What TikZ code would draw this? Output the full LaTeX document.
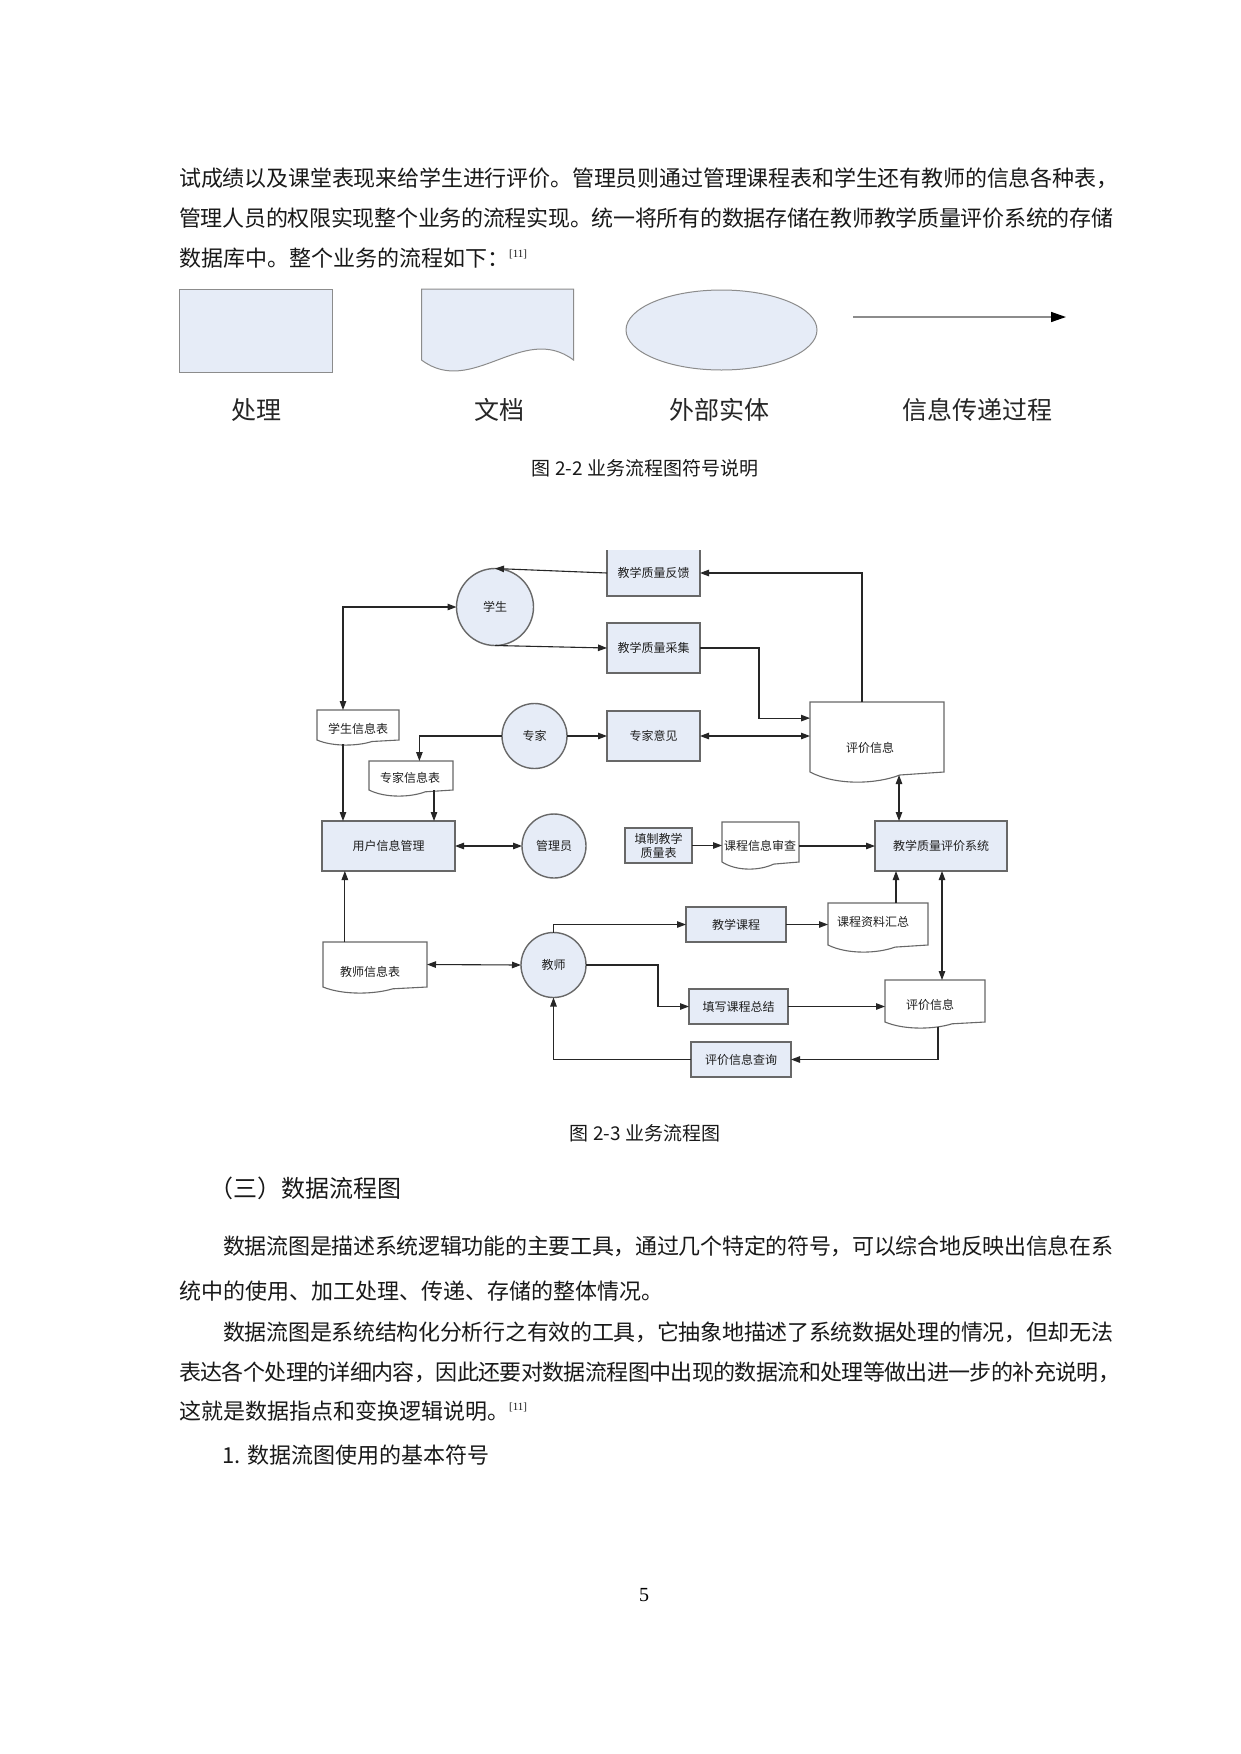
\documentclass[tikz,border=0pt]{standalone}
\usepackage{fontspec}
\setmainfont{Liberation Serif}
\newfontfamily\cjk{Noto Sans CJK SC}
\usetikzlibrary{arrows.meta,calc,shapes.geometric}
\ExplSyntaxOn
\cs_new_protected:Npn \my_spread:n #1 { \tl_map_inline:nn {#1} { ##1 \hskip 0pt plus 1fil minus 1fil \relax } \unskip }
\NewDocumentCommand\jline{mm}{\hbox to #1 {\my_spread:n {#2}}}
\ExplSyntaxOff
\definecolor{lblue}{HTML}{E6ECF7}
\definecolor{bgrey}{HTML}{686868}
\definecolor{lgrey}{HTML}{8C8C8C}
\newcommand\mydoc[2]{%
\path[docline] (#1.south west) -- (#1.north west) -- (#1.north east) -- (#1.south east)
 -- ($(#1.south west)!0.67!(#1.south east)+(0,0.3*#2)$)
 .. controls ($(#1.south west)!0.5!(#1.south east)+(0,1.2*#2)$) and ($(#1.south west)!0.2!(#1.south east)+(0,1.4*#2)$) .. (#1.south west) -- cycle;}
\begin{document}
\begin{tikzpicture}[x=1pt,y=-1pt,
  body/.style={font={\cjk\fontsize{22}{26}\selectfont}, text=black!90, inner sep=0pt, anchor=west},
  proc/.style={rectangle, fill=lblue, draw=bgrey, line width=1.6pt, inner sep=0pt, outer sep=0pt, font={\cjk\fontsize{12}{14}\selectfont}, text=black!88},
  ent/.style={circle, fill=lblue, draw=bgrey, line width=1.4pt, inner sep=0pt, outer sep=0pt, font={\cjk\fontsize{12}{14}\selectfont}, text=black!88},
  docbox/.style={rectangle, inner sep=0pt, outer sep=0pt, draw=none},
  docline/.style={draw=bgrey, line width=1.1pt, fill=white},
  lab/.style={font={\cjk\fontsize{12}{14}\selectfont}, text=black!88, inner sep=0pt},
  arr/.style={draw=black!85, line width=1.1pt, -{Triangle[length=9pt,width=6.5pt]}},
  darr/.style={draw=black!85, line width=1.1pt, {Triangle[length=9pt,width=6.5pt]}-{Triangle[length=9pt,width=6.5pt]}},
  leglab/.style={font={\cjk\fontsize{25}{30}\selectfont}, text=black!85},
  captxt/.style={font={\cjk\fontsize{19}{22}\selectfont}, text=black!90}
]
\fill[white] (0,0) rectangle (1241,1754);
\useasboundingbox (0,0) rectangle (1241,1754);

% ---- top paragraph
\node[body] (p1) at (179,178) {\jline{939pt}{试成绩以及课堂表现来给学生进行评价。管理员则通过管理课程表和学生还有教师的信息各种表，}};
\node[body] (p2) at (179,218) {\jline{934pt}{管理人员的权限实现整个业务的流程实现。统一将所有的数据存储在教师教学质量评价系统的存储}};
\node[body] (p3) at (179,258) {数据库中。整个业务的流程如下：{\rmfamily\fontsize{11}{11}\selectfont\raisebox{9pt}{[11]}}};

% ---- legend
\node[rectangle, fill=lblue, draw=lgrey, line width=1pt, minimum width=153pt, minimum height=83pt, inner sep=0pt] (lr) at (255.5,330.5) {};
\node[docbox, minimum width=152pt, minimum height=71pt] (ld) at (497.5,324.5) {};
\path[fill=lblue, draw=lgrey, line width=1pt] (ld.south west) -- (ld.north west) -- (ld.north east) -- (ld.south east)
  .. controls ($(ld.south west)!0.667!(ld.south east)+(0,-38)$) and ($(ld.south west)!0.333!(ld.south east)+(0,38)$) .. (ld.south west) -- cycle;
\node[ellipse, fill=lblue, draw=lgrey, line width=1pt, minimum width=191pt, minimum height=80pt, inner sep=0pt] (le) at (721.5,330) {};
\coordinate (la1) at (853,317);
\coordinate (la2) at (1066,317);
\draw[draw=lgrey, line width=1.5pt, -{Triangle[length=15pt,width=10pt,color=black]}] (la1) -- (la2);
\node[leglab] (l1) at (256,410) {处理};
\node[leglab] (l2) at (499,410) {文档};
\node[leglab] (l3) at (719,410) {外部实体};
\node[leglab] (l4) at (977,410) {信息传递过程};
\node[captxt] (c1) at (645,468) {图 2-2 业务流程图符号说明};

% ---- main diagram: processes
\node[proc, draw=none, minimum width=93pt, minimum height=46pt] (fk) at (653.5,573) {教学质量反馈};
\draw[draw=bgrey, line width=1.6pt] (fk.north west) -- (fk.south west) -- (fk.south east) -- (fk.north east);
\node[proc, minimum width=93pt, minimum height=50pt] (cj) at (653.5,648) {教学质量采集};
\node[proc, minimum width=93pt, minimum height=50pt] (zjyj) at (653.5,736) {专家意见};
\node[proc, minimum width=133pt, minimum height=50pt] (yhgl) at (388.5,846) {用户信息管理};
\node[proc, minimum width=67pt, minimum height=35pt, align=center] (tz) at (658.5,845.5) {填制教学\\质量表};
\node[proc, minimum width=132pt, minimum height=50pt] (xt) at (941,846) {教学质量评价系统};
\node[proc, minimum width=100pt, minimum height=35pt] (kc) at (736,924.5) {教学课程};
\node[proc, minimum width=99pt, minimum height=35pt] (zj) at (738.5,1006.5) {填写课程总结};
\node[proc, minimum width=100pt, minimum height=35pt] (cx) at (741,1059.5) {评价信息查询};

% entities
\node[ent, minimum size=77pt] (xs) at (495,607) {学生};
\node[ent, minimum size=65pt] (zjc) at (534.5,736) {专家};
\node[ent, minimum size=64pt] (gly) at (554,846) {管理员};
\node[ent, minimum size=65pt] (js) at (553.5,965) {教师};

% documents
\node[docbox, minimum width=82pt, minimum height=30pt] (xsb) at (358,725) {};
\node[docbox, minimum width=84pt, minimum height=29pt] (zjb) at (411,775.5) {};
\node[docbox, minimum width=104pt, minimum height=45pt] (jsb) at (375,964.5) {};
\node[docbox, minimum width=134pt, minimum height=70pt] (pj1) at (877,737) {};
\node[docbox, minimum width=77pt, minimum height=40pt] (shb) at (760.5,842) {};
\node[docbox, minimum width=100pt, minimum height=42pt] (hz) at (878,924) {};
\node[docbox, minimum width=100pt, minimum height=42pt] (pj2) at (935,1001) {};
\mydoc{xsb}{5}
\mydoc{zjb}{6}
\mydoc{jsb}{6}
\mydoc{pj1}{10}
\mydoc{shb}{7}
\mydoc{hz}{7}
\mydoc{pj2}{6}
\node[lab] (xsbt) at (358,729) {学生信息表};
\node[lab] (zjbt) at (410,778) {专家信息表};
\node[lab] (jsbt) at (370,972) {教师信息表};
\node[lab] (pj1t) at (870,748) {评价信息};
\node[lab] (shbt) at (760,846) {课程信息审查};
\node[lab] (hzt) at (873,922) {课程资料汇总};
\node[lab] (pj2t) at (930,1005) {评价信息};

% helper coordinates on shapes
\coordinate (cxs) at ($(xsb.north west)!0.317!(xsb.north east)$);
\coordinate (czj) at ($(zjb.north west)!0.6!(zjb.north east)$);
\coordinate (czb) at ($(zjb.south west)!0.774!(zjb.south east)$);
\coordinate (cjs) at ($(jsb.north west)!0.21!(jsb.north east)$);
\coordinate (cp1) at ($(xt.north west)!0.182!(xt.north east)$);
\coordinate (chz) at ($(hz.north west)!0.68!(hz.north east)$);
\coordinate (cp2) at ($(pj2.north west)!0.57!(pj2.north east)$);
\coordinate (cp3) at ($(pj2.south west)!0.53!(pj2.south east)$);

% connectors
\draw[arr] ($(pj1.north west)+(52,0)$) |- (fk.east);
\draw[arr] (fk.west) -- (xs.north);
\draw[arr] (xs.south) -- (cj.west);
\draw[arr] (cj.east) -- ++(59,0) |- ($(pj1.north west)!0.23!(pj1.south west)$);
\draw[darr] (zjyj.east) -- (zjyj.east -| pj1.west);
\draw[arr] (zjc) -- (zjyj);
\draw[arr] (zjc.west) -| (czj);
\draw[darr] (xs.west) -| (cxs);
\draw[arr] ($(cxs |- xsb.south)+(0,4)$) -- (cxs |- yhgl.north);
\draw[arr] (czb) -- (czb |- yhgl.north);
\draw[darr] (yhgl.east) -- (gly.west);
\draw[arr] (cjs) -- (cjs |- yhgl.south);
\draw[darr] (jsb.east) -- (js.west);
\draw[arr] (tz.east) -- (tz.east -| shb.west);
\draw[arr] (shb.east |- xt.west) -- (xt.west);
\draw[darr] ($(cp1 |- pj1.south)+(0,3)$) -- (cp1);
\draw[arr] (chz) -- (chz |- xt.south);
\draw[darr] (cp2 |- xt.south) -- (cp2);
\draw[arr] (js.north) |- (kc.west);
\draw[arr] (kc.east) -- (kc.east -| hz.west);
\draw[arr] (js.east) -- ++(72,0) |- (zj.west);
\draw[arr] (zj.east) -- (zj.east -| pj2.west);
\draw[arr] ($(cp3)+(0,5)$) |- (cx.east);
\draw[arr] (cx.west) -| (js.south);

\node[captxt] (c2) at (645,1133) {图 2-3 业务流程图};

% ---- lower text
\node[anchor=west, inner sep=0pt, font={\cjk\fontsize{24}{28}\selectfont}, text=black!90] (h3) at (209,1188) {（三）数据流程图};
\node[body] (q1) at (223,1246) {\jline{890pt}{数据流图是描述系统逻辑功能的主要工具，通过几个特定的符号，可以综合地反映出信息在系}};
\node[body] (q2) at (179,1291) {统中的使用、加工处理、传递、存储的整体情况。};
\node[body] (q3) at (223,1332) {\jline{890pt}{数据流图是系统结构化分析行之有效的工具，它抽象地描述了系统数据处理的情况，但却无法}};
\node[body] (q4) at (179,1372) {\jline{941pt}{表达各个处理的详细内容，因此还要对数据流程图中出现的数据流和处理等做出进一步的补充说明，}};
\node[body] (q5) at (179,1411) {这就是数据指点和变换逻辑说明。{\rmfamily\fontsize{11}{11}\selectfont\raisebox{9pt}{[11]}}};
\node[body] (q6) at (222,1455) {1. 数据流图使用的基本符号};
\node[font={\fontsize{20}{24}\selectfont}, inner sep=0pt] (pg) at (644,1595) {5};
\end{tikzpicture}
\end{document}
